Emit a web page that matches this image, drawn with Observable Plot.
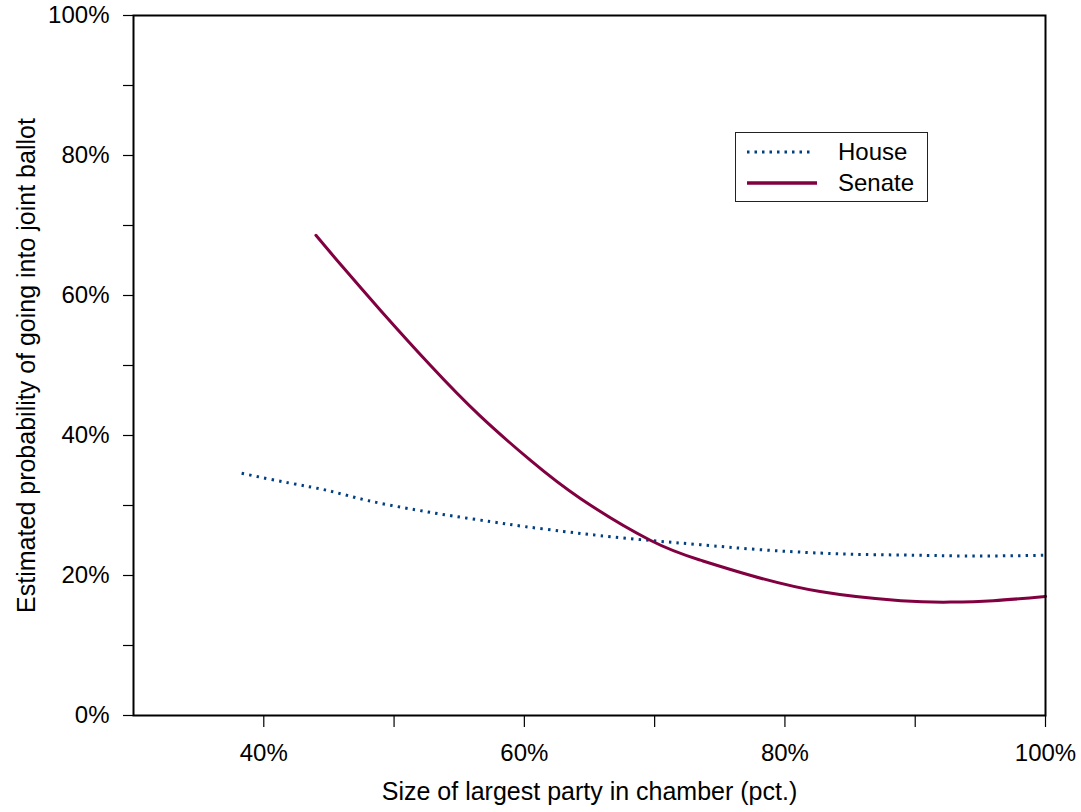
<!DOCTYPE html>
<html>
<head>
<meta charset="utf-8">
<script src="https://cdn.jsdelivr.net/npm/d3@7"></script>
<script src="https://cdn.jsdelivr.net/npm/@observablehq/plot@0.6"></script>
<style>
  html, body { margin: 0; padding: 0; background: #fff; }
  #wrap { position: relative; width: 1081px; height: 812px; font-family: "Liberation Sans", Arial, sans-serif; }
  #legend { position: absolute; left: 735px; top: 132px; width: 193px; height: 70px; border: 1px solid #222; background: #fff; box-sizing: border-box; }
  .row { position: absolute; left: 0; height: 30px; display: flex; align-items: center; }
  .row svg { margin-left: 10px; }
  .row span { position: absolute; left: 102px; font-size: 24px; color: #000; white-space: nowrap; }
  g[aria-label="x-axis label"] text, g[aria-label="y-axis label"] text { font-size: 25px; }
</style>
</head>
<body>
<div id="wrap"></div>
<script>
// House: x = size of largest party (%), y = estimated probability (%)
const houseX = [38.3, 42, 45, 48, 51.6, 54.5, 57.4, 60, 63, 65.8, 69.7, 73.5, 78, 82.7, 86, 90, 93, 96.5, 100];
const houseY = [34.6, 33.2, 32.1, 30.7, 29.4, 28.5, 27.7, 27.0, 26.3, 25.7, 25.0, 24.4, 23.7, 23.2, 23.0, 22.9, 22.8, 22.8, 22.9];
// Senate
const senateX = [44, 46, 49, 52.8, 56.6, 60.5, 64.3, 69.7, 73.5, 77.4, 82.7, 88.9, 92.7, 96, 100];
const senateY = [68.6, 64.2, 57.8, 50.0, 42.8, 36.4, 31.0, 25.0, 22.2, 20.0, 17.7, 16.4, 16.2, 16.4, 17.0];
const seriesNames = ["House", "Senate"];
const seriesColors = ["#003f80", "#800040"];
const xTicks = [40, 50, 60, 70, 80, 90, 100];
const xLabelTicks = [40, 60, 80, 100];
const yTicks = [0, 10, 20, 30, 40, 50, 60, 70, 80, 90, 100];
const yLabelTicks = [0, 20, 40, 60, 80, 100];
const xTitle = "Size of largest party in chamber (pct.)";
const yTitle = "Estimated probability of going into joint ballot";

const house = houseX.map((x, i) => ({x, y: houseY[i]}));
const senate = senateX.map((x, i) => ({x, y: senateY[i]}));
const pct = d => d + "%";
const blank = () => "";

const chart = Plot.plot({
  width: 1081,
  height: 812,
  marginLeft: 133,
  marginRight: 36,
  marginTop: 15,
  marginBottom: 97,
  style: {fontFamily: "'Liberation Sans', Arial, sans-serif", fontSize: "24px", color: "#000", background: "#fff"},
  x: {domain: [30, 100]},
  y: {domain: [0, 100]},
  marks: [
    Plot.axisX(xTicks, {tickSize: 12, tickFormat: blank, label: null, stroke: "#000", strokeWidth: 1.2}),
    Plot.axisX(xLabelTicks, {tickSize: 0, tickPadding: 28, tickFormat: pct, label: xTitle, labelAnchor: "center", labelArrow: "none", labelOffset: 84, fontSize: 24}),
    Plot.axisY(yTicks, {tickSize: 10, tickFormat: blank, label: null, stroke: "#000", strokeWidth: 1.2}),
    Plot.axisY(yLabelTicks, {tickSize: 0, tickPadding: 24, tickFormat: pct, label: yTitle, labelAnchor: "center", labelArrow: "none", labelOffset: 116, fontSize: 24}),
    Plot.line(house, {x: "x", y: "y", curve: "natural", stroke: seriesColors[0], strokeWidth: 3, strokeDasharray: "2.4,5.2", strokeLinecap: "butt"}),
    Plot.line(senate, {x: "x", y: "y", curve: "natural", stroke: seriesColors[1], strokeWidth: 3}),
    Plot.frame({stroke: "#000", strokeWidth: 2})
  ]
});
const wrap = document.getElementById("wrap");
wrap.appendChild(chart);

const legend = document.createElement("div");
legend.id = "legend";
seriesNames.forEach((name, i) => {
  const row = document.createElement("div");
  row.className = "row";
  row.style.top = (i === 0 ? 4 : 35) + "px";
  const dash = i === 0 ? 'stroke-dasharray="2.5,5"' : "";
  row.innerHTML = `<svg width="72" height="10"><line x1="1" x2="${i === 0 ? 66 : 71}" y1="5" y2="5" stroke="${seriesColors[i]}" stroke-width="${i === 0 ? 3 : 3.5}" ${dash}/></svg><span>${name}</span>`;
  legend.appendChild(row);
});
wrap.appendChild(legend);
</script>
</body>
</html>
